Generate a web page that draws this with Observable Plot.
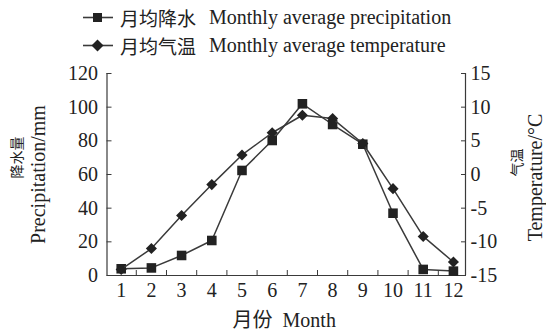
<!DOCTYPE html>
<html>
<head>
<meta charset="utf-8">
<script src="https://cdn.jsdelivr.net/npm/d3@7"></script>
<script src="https://cdn.jsdelivr.net/npm/@observablehq/plot@0.6"></script>
<style>
  html, body { margin: 0; padding: 0; background: #fff; }
  body { width: 546px; height: 332px; overflow: hidden; font-family: "Liberation Serif", "Noto Sans CJK SC", serif; color: #222; }
  #legend { position: relative; height: 60px; width: 546px; }
  .row { position: absolute; left: 82px; height: 24px; display: flex; align-items: center; font-size: 20px; white-space: nowrap; }
  .row svg { margin-right: 6px; }
  .zh { font-family: "Noto Sans CJK SC", sans-serif; font-size: 19px; margin-right: 13px; }
</style>
</head>
<body>
<div id="legend"></div>
<div id="chart"></div>
<script>
// ---- data ----
const months = [1, 2, 3, 4, 5, 6, 7, 8, 9, 10, 11, 12];
const precipitation = [4, 4.5, 11.9, 20.8, 62.4, 80.2, 102, 89.7, 78, 37, 3.6, 2.6]; // mm
const temperature = [-14.1, -11.0, -6.1, -1.5, 2.9, 6.2, 8.8, 8.3, 4.6, -2.1, -9.2, -13.0]; // °C
const leftTicks = [0, 20, 40, 60, 80, 100, 120];
const rightTicks = [-15, -10, -5, 0, 5, 10, 15];
const tickGaps = [1.5, 2.5, 3.5, 4.5, 5.5, 6.5, 7.5, 8.5, 9.5, 10.5, 11.5];
const seriesLabels = [
  {zh: "月均降水", en: "Monthly average precipitation", symbol: "square"},
  {zh: "月均气温", en: "Monthly average temperature", symbol: "diamond"}
];
const xTitle = "月份  Month";
const yLeftTitle = ["降水量", "Precipitation/mm"];
const yRightTitle = ["气温", "Temperature/°C"];

// temperature (-15..15) drawn on the precipitation scale (0..120)
const tToP = t => (t + 15) * 4;
const pToT = p => p / 4 - 15;

const precipData = months.map((m, i) => ({month: m, value: precipitation[i]}));
const tempData = months.map((m, i) => ({month: m, value: temperature[i]}));

const ink = "#222";
const lineInk = "#3a3a3a";

// ---- legend ----
const legend = document.getElementById("legend");
seriesLabels.forEach((s, i) => {
  const row = document.createElement("div");
  row.className = "row";
  row.style.top = (5 + i * 28) + "px";
  const marker = s.symbol === "square"
    ? `<rect x="11" y="3" width="9" height="9" fill="${ink}"/>`
    : `<polygon points="15.5,1.5 21.5,7.5 15.5,13.5 9.5,7.5" fill="${ink}"/>`;
  row.innerHTML = `<svg width="32" height="15"><line x1="1" x2="31" y1="7.5" y2="7.5" stroke="${lineInk}" stroke-width="1.6"/>${marker}</svg><span class="zh">${s.zh}</span><span>${s.en}</span>`;
  legend.appendChild(row);
});

// ---- chart ----
const xDomain = [0.53, 12.4];
const font = "'Liberation Serif', 'Noto Sans CJK SC', serif";
const chart = Plot.plot({
  width: 546,
  height: 272,
  marginTop: 13,
  marginBottom: 57,
  marginLeft: 106.5,
  marginRight: 81,
  style: {fontFamily: font, fontSize: "20px", color: ink, background: "#fff"},
  x: {domain: xDomain, axis: null},
  y: {domain: [0, 120], axis: null},
  marks: [
    // frame lines (no top)
    Plot.ruleX(xDomain, {stroke: lineInk, strokeWidth: 1.2}),
    Plot.ruleY([0], {stroke: lineInk, strokeWidth: 1.2}),
    // left axis
    Plot.axisY({anchor: "left", ticks: leftTicks, tickSize: -5, tickPadding: 14, stroke: lineInk, fontSize: 20, label: null}),
    // right axis (temperature)
    Plot.axisY({anchor: "right", ticks: rightTicks.map(tToP), tickFormat: p => String(pToT(p)), tickSize: -5, tickPadding: 10, stroke: lineInk, fontSize: 20, label: null}),
    // bottom ticks between months
    Plot.axisX({anchor: "bottom", ticks: tickGaps, tickSize: -5, tickFormat: () => "", stroke: lineInk, label: null}),
    // month labels
    Plot.axisX({anchor: "bottom", ticks: months, tickSize: 0, tickPadding: 7, fontSize: 20, label: null}),
    // precipitation
    Plot.line(precipData, {x: "month", y: "value", stroke: lineInk, strokeWidth: 1.5}),
    Plot.dot(precipData, {x: "month", y: "value", symbol: "square", r: 5.4, fill: ink, stroke: null}),
    // temperature
    Plot.line(tempData, {x: "month", y: d => tToP(d.value), stroke: lineInk, strokeWidth: 1.5}),
    Plot.dot(tempData, {x: "month", y: d => tToP(d.value), symbol: "diamond2", r: 5, fill: ink, stroke: null}),
    // axis titles
    Plot.text([xTitle], {frameAnchor: "bottom", textAnchor: "middle", dy: 51, dx: -2, fontSize: 20, text: d => d, fill: ink}),
    Plot.text([yLeftTitle[0]], {frameAnchor: "left", textAnchor: "middle", dx: -89.5, dy: -17, rotate: -90, fontSize: 14, text: d => d, fill: ink}),
    Plot.text([yLeftTitle[1]], {frameAnchor: "left", textAnchor: "middle", dx: -68.5, dy: 0, rotate: -90, fontSize: 20, text: d => d, fill: ink}),
    Plot.text([yRightTitle[0]], {frameAnchor: "right", textAnchor: "middle", dx: 52, dy: -12, rotate: -90, fontSize: 14, text: d => d, fill: ink}),
    Plot.text([yRightTitle[1]], {frameAnchor: "right", textAnchor: "middle", dx: 70, dy: 3, rotate: -90, fontSize: 20, text: d => d, fill: ink})
  ]
});
document.getElementById("chart").appendChild(chart);
</script>
</body>
</html>
